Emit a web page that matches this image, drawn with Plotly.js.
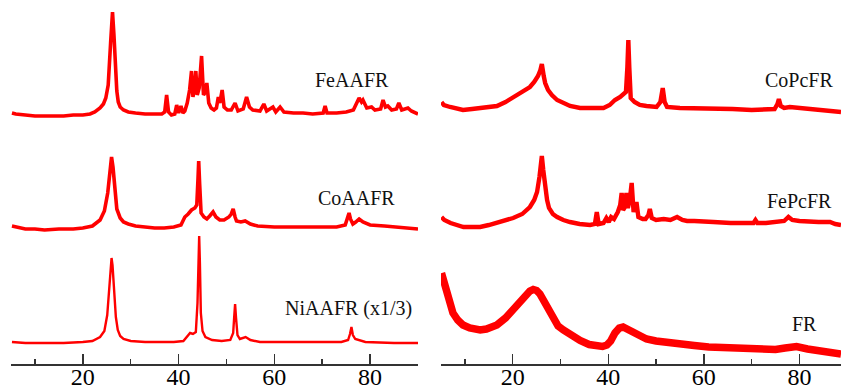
<!DOCTYPE html>
<html>
<head>
<meta charset="utf-8">
<script src="https://cdn.plot.ly/plotly-3.0.1.min.js"></script>
<style>html,body{margin:0;padding:0;background:#fff;}#chart{width:841px;height:390px;}</style>
</head>
<body>
<div id="chart"></div>
<script>
// 2θ (degrees) and intensity above each pattern's own baseline (arbitrary units)
const feAAFR_x = [5.2,6,8,10,12,14,16,18,20,21.5,22.5,23.6,24.3,24.8,25.3,25.8,26.2,26.5,26.8,27.1,27.4,27.8,28.5,29.5,31,33,35,36.5,37.1,37.5,37.9,38.5,39.2,39.6,40.0,40.5,40.9,41.3,41.8,42.3,42.7,43.0,43.3,43.6,43.9,44.3,44.8,45.2,45.5,45.9,46.3,46.8,47.4,47.9,48.3,48.6,49.1,49.5,50.2,51.0,51.8,52.4,53.5,54.2,54.8,55.5,57.0,57.8,58.4,59.7,60.3,61.2,62,64,66,68,70.2,70.6,71,73,75,76.5,77.7,78.2,78.5,79.3,80.3,81,82.2,82.7,83.2,83.7,84.5,85.5,86,86.6,87.9,88.6,90];
const feAAFR_y = [2,1,0,-1,-1,-1,-1,0,0,1,3,7,11,17,30,72,103,80,48,24,13,8,5,3,2,1,1,1,3,20,3,0,1,10,2,9,2,4,12,25,44,18,25,44,20,27,59,20,22,32,12,7,5,7,18,12,25,8,5,5,12,4,6,18,8,5,4,11,4,8,3,8,3,2,2,1,2,9,2,2,3,5,17,13,15,7,8,5,6,15,8,9,5,6,12,5,7,4,1];

const coAAFR_x = [5.2,6,8,10,12,15,18,20,22,23.6,24.5,25.2,25.7,26.0,26.3,26.7,27.1,27.8,28.5,29.5,31,33,35,37,39,40.5,41.3,42.0,42.7,43.4,43.8,44.05,44.2,44.4,44.7,45.3,45.9,46.5,47.2,47.8,48.6,49.5,50.5,51.0,51.4,51.8,52.1,53,53.9,55,56.5,60,65,70,73,74.8,75.3,75.6,75.9,76.4,77.0,77.7,78.5,80,83,86,90];
const coAAFR_y = [3,2,0,0,-1,0,0,1,3,9,18,36,60,72,62,35,20,11,7,5,3,2,1,1,2,4,12,15,19,21,24,50,68,45,16,12,10,13,17,12,9,9,12,15,20,12,8,7,8,5,3,2,2,2,2,4,10,16,10,5,7,10,7,4,3,2,0];

const niAAFR_x = [5.2,8,12,16,20,22,23.6,24.5,25.1,25.5,25.8,26.0,26.2,26.5,26.9,27.3,27.8,28.5,30,33,36,39,41,41.8,42.4,43.0,43.6,43.95,44.15,44.3,44.45,44.65,45,45.6,47,49,50.8,51.4,51.6,51.8,52.0,52.3,52.8,53.5,54,55,57,60,65,70,74,75.4,75.8,76.1,76.4,76.9,77.5,79,85,90];
const niAAFR_y = [1,0,0,0,1,2,6,12,28,50,75,85,78,52,26,13,7,4,2,1,1,1,2,7,10,9,11,40,90,107,80,30,12,6,3,2,3,10,25,39,25,8,4,5,6,3,1,1,1,1,1,3,9,16,8,4,3,1,0,0];

const coPcFR_x = [5.1,5.6,6.9,8.5,9.6,11.5,13.2,15,16.7,18.5,20.1,22,23.6,24.5,25.3,25.8,26.1,26.5,26.8,27.4,28.2,29.3,30.5,32,34.1,36.5,39,40.3,41.4,42.5,43.1,43.7,44.0,44.2,44.4,44.7,45.5,46.6,48,50.1,50.9,51.4,51.8,52.3,55,58.5,62,66,70,72.4,74.8,75.4,75.7,76.1,76.8,78,80,83,86,88.7];
const coPcFR_y = [10,7,5,3,2,3,4,5,6,10,15,20,25,30,36,42,48,36,29,22,17,12,9,6,4,4,4,7,12,15,17,20,45,72,45,14,10,7,6,5,10,24,10,5,4,4,3,3,2,2,3,8,13,6,4,5,4,3,2,0];

const fePcFR_x = [5.1,5.7,7,8.5,9.7,11.5,13.2,15,16.7,18.5,20.1,22,23.6,24.5,25.1,25.6,25.9,26.1,26.4,26.8,27.2,27.6,28.4,29.3,30.6,32,34,36.2,37.2,37.6,38.0,39,39.6,40.1,40.6,41.2,42,42.5,42.8,43.1,43.5,43.8,44.1,44.5,44.9,45.3,45.9,46.3,47.2,47.8,48.4,48.7,49.1,50,51.6,53,54.4,55.5,56.5,58,60,62,65.6,68,70.4,70.8,71.2,73,75,76.8,77.7,78.5,80,82,84,86.4,87.5,88.7];
const fePcFR_y = [8,5,2,0,-2,-2,-2,0,2,4,7,11,18,25,33,48,62,69,55,38,25,17,11,8,5,3,1,0,1,13,1,2,7,3,8,6,13,20,32,15,18,32,17,25,42,13,23,8,6,6,10,16,7,5,6,5,8,5,4,4,3,3,2,2,2,5,2,2,3,4,8,5,4,3,3,3,1,0];

const fr_x = [5.1,5.5,6.2,6.9,7.5,8.5,9.6,11,12,13.2,14.5,15.5,16.7,18.5,20.1,21.5,22.9,23.6,24.3,25,25.7,26.4,27.4,28.5,29.5,30.6,32.5,34.1,36,37.6,38.8,39.7,40.5,41.4,42.3,43.1,44,45.2,46.5,48,50,52.5,55,58,61,65.5,69,72.4,75,77,79.4,81.7,84,86,88.7];
const fr_y = [82,74,62,50,42,35,30,27,25.5,25,26,27.5,30,37,45,53,61.5,64,65.5,64.5,61,55,45,35,29,25,19,14.5,10.5,8.5,8.5,10,14,22,27,28,26,23,19.5,16,14,12,11,9.5,8,7,6,5,5.5,7,8.5,6,4.5,3,1];

const sampleNames = ["FeAAFR","CoAAFR","NiAAFR (x1/3)","CoPcFR","FePcFR","FR"];
const xTickVals = [20,40,60,80];
const xMinorVals = [10,30,50,70,90];

const SERIF = "'Liberation Serif', 'Times New Roman', Times, 'DejaVu Serif', serif";

// stacking offsets (layout) and panel assignment
const panels = [
  {x: feAAFR_x, y: feAAFR_y, off: 249, ax: 1, w: 3.6, lx: 68.0, ly: 284},
  {x: coAAFR_x, y: coAAFR_y, off: 135, ax: 1, w: 3.6, lx: 68.7, ly: 166},
  {x: niAAFR_x, y: niAAFR_y, off: 21,  ax: 1, w: 2.4, lx: 61.8, ly: 56},
  {x: coPcFR_x, y: coPcFR_y, off: 252, ax: 2, w: 4.4, lx: 72.4, ly: 284},
  {x: fePcFR_x, y: fePcFR_y, off: 139, ax: 2, w: 4.4, lx: 72.8, ly: 163},
  {x: fr_x,     y: fr_y,     off: 9,   ax: 2, w: 7.5, lx: 78.0, ly: 40}
];

const traces = panels.map((p, i) => ({
  type: 'scatter', mode: 'lines',
  x: p.x, y: p.y.map(v => v + p.off),
  xaxis: p.ax === 1 ? 'x' : 'x2', yaxis: p.ax === 1 ? 'y' : 'y2',
  line: {color: '#ff0000', width: p.w, shape: 'linear'},
  name: sampleNames[i], hoverinfo: 'skip'
}));

const annotations = panels.map((p, i) => ({
  text: sampleNames[i], x: p.lx, y: p.ly,
  xref: p.ax === 1 ? 'x' : 'x2', yref: p.ax === 1 ? 'y' : 'y2',
  xanchor: 'left', yanchor: 'middle', showarrow: false,
  font: {family: SERIF, size: 20, color: '#111'}
}));

function xa(domain, range, anchor) {
  return {
    domain: domain, range: range, anchor: anchor,
    showline: true, linecolor: '#333', linewidth: 1.5,
    ticks: 'inside', ticklen: 10, tickwidth: 1.5, tickcolor: '#333',
    tickmode: 'array', tickvals: xTickVals,
    ticklabelstandoff: -9,
    tickfont: {family: SERIF, size: 24, color: '#000'},
    minor: {tickmode: 'array', tickvals: xMinorVals, ticks: 'inside', ticklen: 5, tickwidth: 1.5, tickcolor: '#333'},
    showgrid: false, zeroline: false, fixedrange: true
  };
}
function ya(anchor) {
  return {range: [0, 364], anchor: anchor, visible: false, showgrid: false, zeroline: false, fixedrange: true};
}

const layout = {
  width: 841, height: 390,
  margin: {l: 0, r: 0, t: 0, b: 26},
  paper_bgcolor: '#fff', plot_bgcolor: '#fff',
  showlegend: false,
  xaxis: xa([11/841, 418/841], [5, 90], 'y'),
  xaxis2: xa([441/841, 1], [5, 88.7], 'y2'),
  yaxis: ya('x'),
  yaxis2: ya('x2'),
  annotations: annotations
};

Plotly.newPlot('chart', traces, layout, {staticPlot: true, displayModeBar: false});
</script>
</body>
</html>
